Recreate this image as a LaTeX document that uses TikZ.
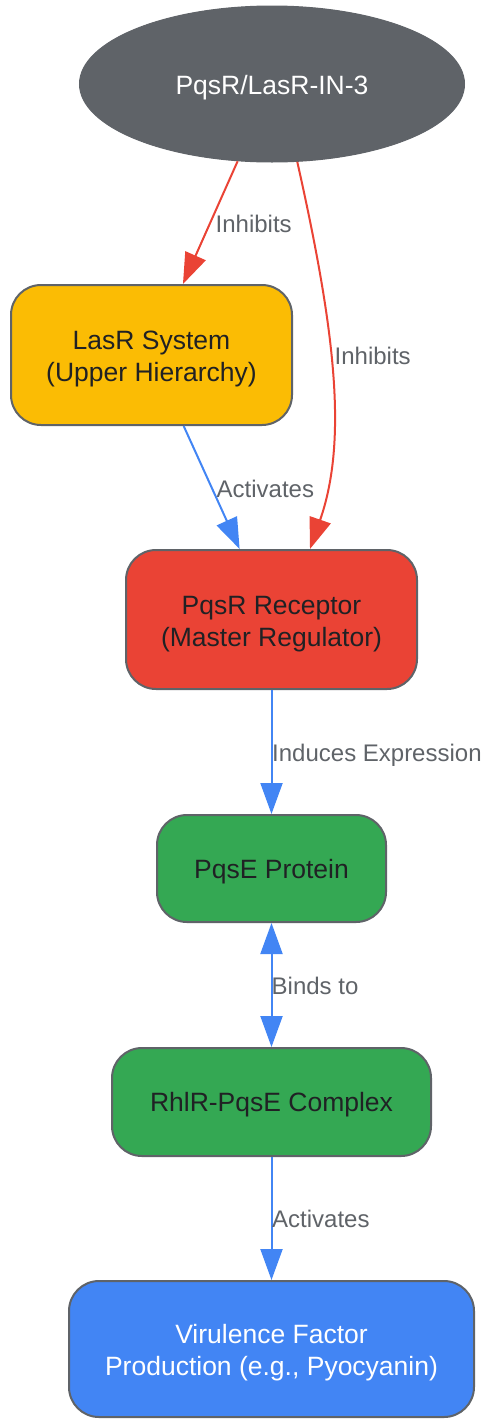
\documentclass[tikz,border=0pt]{standalone}
\usepackage{fontspec}
\setmainfont{Liberation Sans}
\usetikzlibrary{shapes.geometric,arrows.meta}
\definecolor{gborder}{HTML}{5F6368}
\definecolor{gtext}{HTML}{202124}
\definecolor{gred}{HTML}{EA4335}
\definecolor{gblue}{HTML}{4285F4}
\definecolor{ggreen}{HTML}{34A853}
\definecolor{gyellow}{HTML}{FBBC04}
\newcommand{\twolines}[2]{\vtop{\halign{\hfil##\hfil\cr #1\cr #2\cr}}}
\begin{document}
\begin{tikzpicture}[x=1pt,y=-1pt,
  box/.style={draw=gborder, line width=2pt, rounded corners=30pt,
    font=\fontsize{26.5}{32}\selectfont, text=gtext, inner sep=0pt},
  oneline/.style={text height=19pt, text depth=0pt},
  twoline/.style={text height=10pt, text depth=21pt},
  lbl/.style={anchor=base west, inner sep=0pt, text=gborder, font=\fontsize{24}{28}\selectfont},
  inh/.style={draw=gred, line width=2pt, -{Triangle[length=31pt,width=22pt]}},
  act/.style={draw=gblue, line width=2pt, -{Triangle[length=31pt,width=22pt]}},
  both/.style={draw=gblue, line width=2pt, {Triangle[length=31pt,width=22pt]}-{Triangle[length=31pt,width=22pt]}},
]
\useasboundingbox (0,0) rectangle (485,1419);
\node[ellipse, fill=gborder, draw=gborder, line width=1pt, minimum width=385pt, minimum height=156pt,
  text=white, font=\fontsize{26.5}{31}\selectfont, inner sep=0pt, text height=20pt, text depth=0pt] (top) at (272,84) {PqsR/LasR-IN-3};
\node[box, twoline, fill=gyellow, minimum width=281pt, minimum height=140pt] (lasr) at (151.5,355) {\twolines{LasR System}{(Upper Hierarchy)}};
\node[box, twoline, fill=gred, minimum width=291pt, minimum height=139pt] (pqsr) at (271.5,619.5) {\twolines{PqsR Receptor}{(Master Regulator)}};
\node[box, oneline, fill=ggreen, minimum width=229pt, minimum height=107pt] (pqse) at (271.5,868.5) {PqsE Protein};
\node[box, oneline, fill=ggreen, minimum width=319pt, minimum height=108pt] (rhlr) at (271.5,1102) {RhlR-PqsE Complex};
\node[box, twoline, fill=gblue, text=white, minimum width=405pt, minimum height=136pt] (vir) at (271.5,1349) {\twolines{Virulence Factor}{Production (e.g., Pyocyanin)}};

\coordinate (pqsrin) at (310,549);
\draw[inh] (top) -- (lasr);
\draw[inh] (top.-72) .. controls (335,330) and (348,440) .. (pqsrin);
\draw[act] (lasr) -- (pqsr);
\draw[act] (pqsr) -- (pqse);
\draw[both] (pqse) -- (rhlr);
\draw[act] (rhlr) -- (vir);

\node[lbl] (l1) at (215.5,232) {Inhibits};
\node[lbl] (l2) at (334.5,364) {Inhibits};
\node[lbl] (l3) at (216.5,497) {Activates};
\node[lbl] (l4) at (272,761) {Induces Expression};
\node[lbl] (l5) at (271.5,994) {Binds to};
\node[lbl] (l6) at (272,1227) {Activates};
\end{tikzpicture}
\end{document}
